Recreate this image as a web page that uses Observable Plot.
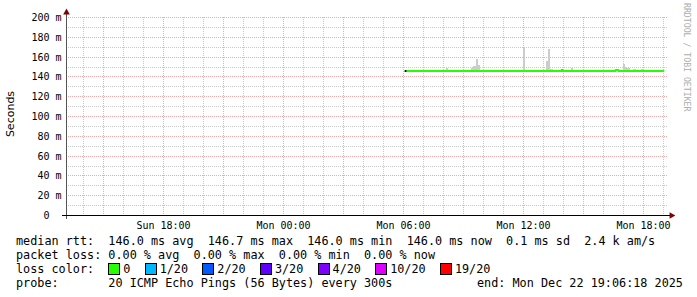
<!DOCTYPE html>
<html><head><meta charset="utf-8">
<script src="https://cdn.jsdelivr.net/npm/d3@7"></script>
<script src="https://cdn.jsdelivr.net/npm/@observablehq/plot@0.6"></script>
<style>
html,body{margin:0;padding:0;background:#fff;}
#wrap{position:relative;width:697px;height:297px;overflow:hidden;background:#fff;font-family:"DejaVu Sans Mono",monospace;}
#wrap svg{position:absolute;left:0;top:0;}
.leg{position:absolute;left:16px;font-size:11.8px;line-height:14px;white-space:pre;color:#000;}
.box{display:inline-block;width:10px;height:10px;border:1px solid #000;vertical-align:-2px;margin-right:3px;}
#ylab{position:absolute;left:-19.5px;top:107.5px;width:60px;text-align:center;font-family:"DejaVu Sans",sans-serif;font-size:11px;line-height:12px;transform:rotate(-90deg);color:#000;}
#wm{position:absolute;left:682px;top:3px;writing-mode:vertical-rl;font-size:8.2px;line-height:10px;color:#adadad;white-space:pre;}
</style></head>
<body><div id="wrap"></div>
<script>
// ---- data ----
const xTickTimes = ["2025-12-21T18:00","2025-12-22T00:00","2025-12-22T06:00","2025-12-22T12:00","2025-12-22T18:00"];
const xTickLabels = ["Sun 18:00","Mon 00:00","Mon 06:00","Mon 12:00","Mon 18:00"];
const yTicks = [0,20,40,60,80,100,120,140,160,180,200];
const yTickLabels = ["0\u00a0\u00a0","20 m","40 m","60 m","80 m","100 m","120 m","140 m","160 m","180 m","200 m"];
const yMinorTicks = [10,30,50,70,90,110,130,150,170,190];

const medianTimes = ["2025-12-22T06:10","2025-12-22T16:35","2025-12-22T16:45","2025-12-22T19:00"];
const medianValues = [146,147,146,146];
const unknownLossTimes = ["2025-12-22T06:05"];
const unknownLossValues = [146];

const smokeTimes = ["2025-12-22T08:10","2025-12-22T09:25","2025-12-22T09:30","2025-12-22T09:35","2025-12-22T09:40","2025-12-22T09:45",
  "2025-12-22T12:00","2025-12-22T13:10","2025-12-22T13:15","2025-12-22T13:20","2025-12-22T13:25","2025-12-22T13:55","2025-12-22T14:25",
  "2025-12-22T17:00","2025-12-22T17:05","2025-12-22T17:10","2025-12-22T17:15","2025-12-22T17:30","2025-12-22T17:35","2025-12-22T17:55"];
const smokeHigh = [148.5,148.5,150.5,150.5,157.5,152,168.5,156,168,147.5,147.5,147.8,148.5,152.5,149,148.5,148.5,147.5,147.5,147.5];
const smokeLow  = [146,146,146,146,146,146,146,146,146,146,146,146,146,146,146,146,146,146,146,146];
const smokeShade = ["#cccccc","#cccccc","#cccccc","#cccccc","#cccccc","#cccccc","#cccccc","#cccccc","#cccccc","#cccccc","#cccccc","#909090","#cccccc",
  "#cccccc","#cccccc","#cccccc","#cccccc","#cccccc","#cccccc","#cccccc"];

const rttStats = ["146.0 ms avg","146.7 ms max","146.0 ms min","146.0 ms now","0.1 ms sd","2.4 k am/s"];
const lossStats = ["0.00 % avg","0.00 % max","0.00 % min","0.00 % now"];
const lossLabels = ["0","1/20","2/20","3/20","4/20","10/20","19/20"];
const lossColors = ["#26ff00","#00b8ff","#0059ff","#5e00ff","#7e00ff","#dd00ff","#ff0000"];
const probeText = "20 ICMP Echo Pings (56 Bytes) every 300s";
const endText = "end: Mon Dec 22 19:06:18 2025";
const watermark = "RRDTOOL / TOBI OETIKER";
const yLabel = "Seconds";

// ---- build ----
const parse = s => new Date(s);
const xDomain = [parse("2025-12-21T13:09"), parse("2025-12-22T19:15")];
const step = 5 * 60 * 1000;
const smoke = smokeTimes.map((t, i) => ({t0: parse(t), t1: new Date(+parse(t) + step), lo: smokeLow[i], hi: smokeHigh[i], c: smokeShade[i]}));
const median = medianTimes.map((t, i) => ({t: parse(t), v: medianValues[i]}));
const unknown = unknownLossTimes.map((t, i) => ({t: parse(t), v: unknownLossValues[i]}));
const hours = d3.timeHour.range(xDomain[0], xDomain[1]);
const minorX = hours.filter(d => d.getHours() % 3 !== 0);
const majorX = hours.filter(d => d.getHours() % 3 === 0);
const xTicks = xTickTimes.map(parse);

const grey = "#c8c8c8", red = "#eeaaaa", arrow = "#7f0000";

const svg = Plot.plot({
  width: 697, height: 232,
  marginLeft: 66, marginRight: 29, marginTop: 17, marginBottom: 17,
  style: {fontFamily: "DejaVu Sans Mono, monospace", fontSize: "10px", background: "transparent", overflow: "visible"},
  x: {type: "time", domain: xDomain, round: true},
  y: {domain: [0, 200], round: true},
  marks: [
    Plot.ruleY(yMinorTicks, {stroke: grey, strokeDasharray: "1,1"}),
    Plot.ruleX(minorX, {stroke: grey, strokeDasharray: "1,1"}),
    Plot.ruleY(yTicks.filter(d => d > 0), {stroke: red, strokeDasharray: "1,1"}),
    Plot.ruleX(majorX, {stroke: red, strokeDasharray: "1,1"}),
    Plot.rect(smoke, {x1: "t0", x2: "t1", y1: "lo", y2: "hi", fill: "c"}),
    Plot.line(median, {x: "t", y: "v", stroke: "#26ff00", strokeWidth: 2, curve: "step-after", dy: 0.5}),
    Plot.dot(unknown, {x: "t", y: "v", r: 1.1, fill: "#000", stroke: "none", dy: 0.5}),
    Plot.ruleX([xDomain[0]], {stroke: "#555", insetTop: -4, insetBottom: -4}),
    Plot.ruleY([0], {stroke: "#000", insetLeft: -4, insetRight: -2}),
    Plot.dot([{x: xDomain[0], y: 200}], {x: "x", y: "y", symbol: "triangle", r: 2.5, fill: arrow, stroke: "none", dy: -5}),
    Plot.dot([{x: xDomain[1], y: 0}], {x: "x", y: "y", symbol: "triangle", r: 2.5, fill: arrow, stroke: "none", rotate: 90, dx: 3}),
    Plot.axisY({ticks: yTicks, tickFormat: (d, i) => yTickLabels[yTicks.indexOf(d)], tickSize: 0, tickPadding: 5, label: null, fontSize: 10}),
    Plot.axisX({ticks: xTicks, tickFormat: (d, i) => xTickLabels[i], tickSize: 0, tickPadding: 6, label: null, fontSize: 10})
  ]
});

const wrap = document.getElementById("wrap");
wrap.appendChild(svg);

function addDiv(cls, id, text, top, left) {
  const d = document.createElement("div");
  if (cls) d.className = cls;
  if (id) d.id = id;
  d.textContent = text;
  if (top != null) d.style.top = top + "px";
  if (left != null) d.style.left = left + "px";
  wrap.appendChild(d);
  return d;
}
addDiv(null, "ylab", yLabel);
addDiv(null, "wm", watermark);
addDiv("leg", null, "median rtt:  " + rttStats.join("  "), 234);
addDiv("leg", null, "packet loss: " + lossStats.join("  "), 248);
const l3 = addDiv("leg", null, "loss color:  ", 262);
lossLabels.forEach((lab, i) => {
  const b = document.createElement("span");
  b.className = "box";
  b.style.background = lossColors[i];
  l3.appendChild(b);
  l3.appendChild(document.createTextNode(lab + (i < lossLabels.length - 1 ? "  " : "")));
});
addDiv("leg", null, "probe:       " + probeText, 276);
addDiv("leg", null, endText, 276, 477);
</script>
</body></html>
